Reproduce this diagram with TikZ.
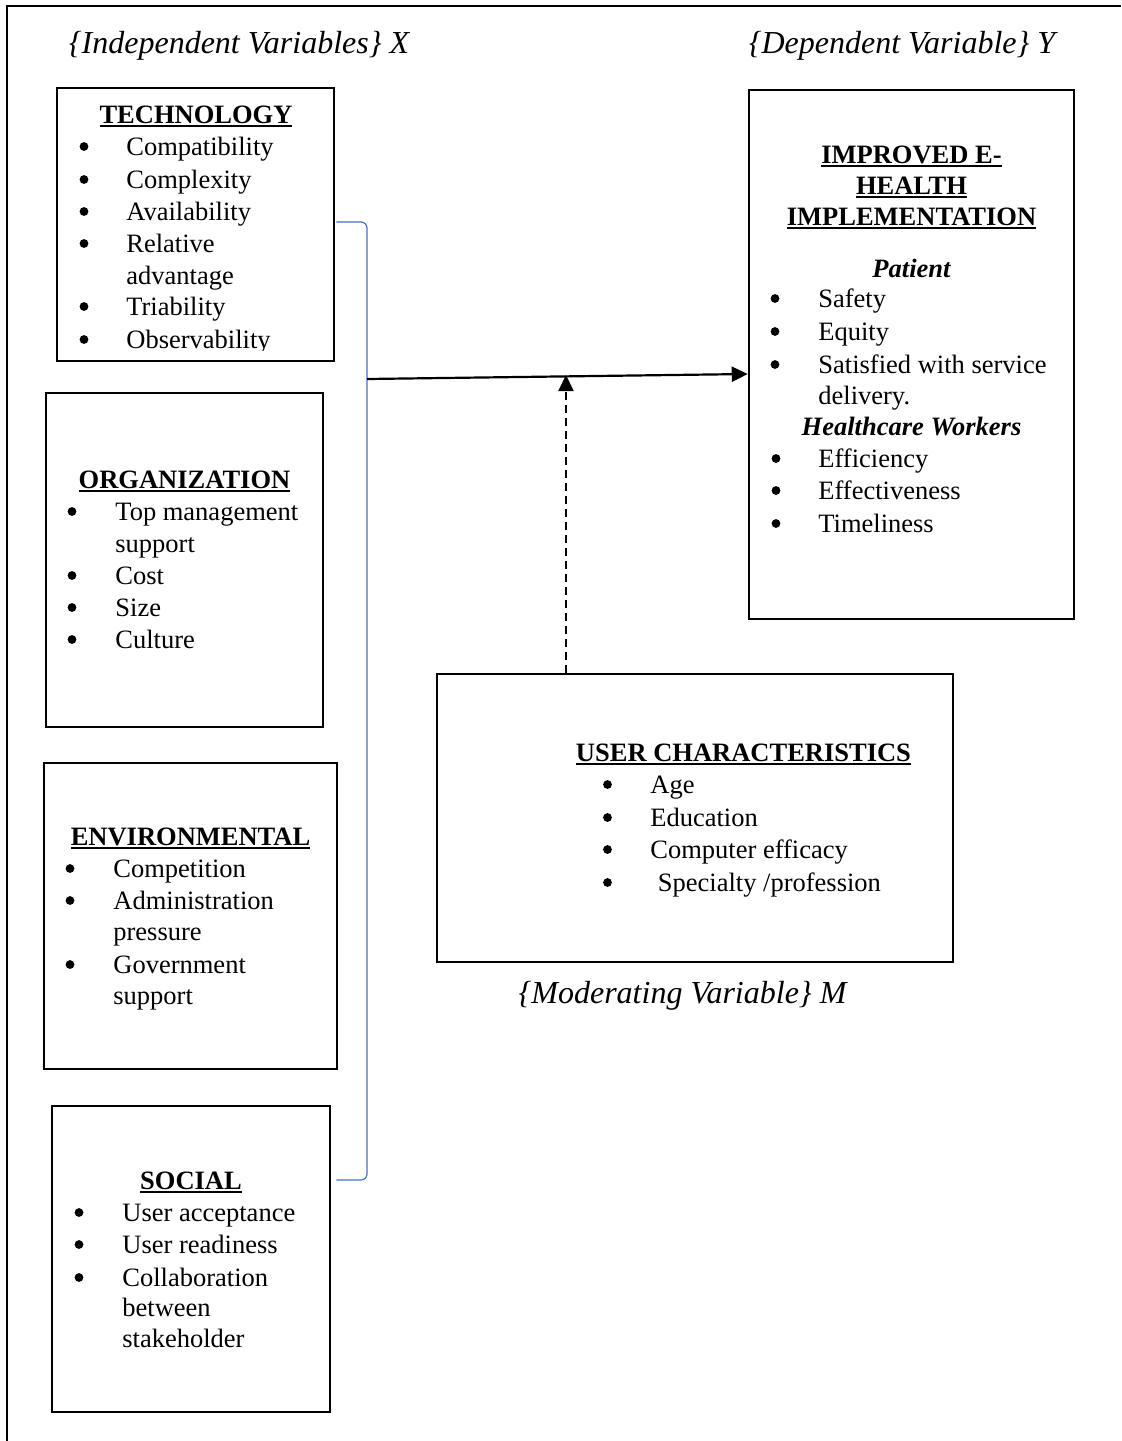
\documentclass[tikz,border=0pt]{standalone}
\usepackage{fontspec}
\setmainfont{Liberation Serif}
\usetikzlibrary{arrows.meta}
\newcommand\bodyfont{\fontsize{13.25}{16}\selectfont}
\newcommand\lblfont{\fontsize{16}{19}\selectfont\itshape}
\newcommand\myul[1]{\setbox0\hbox{#1}\rlap{\vrule width\wd0 height -0.9pt depth 1.9pt}\box0}
\newcommand\bl[5]{\node[bul] (#1b) at (#2,#4-8.5) {}; \node[itm] (#1) at (#3,#4) {#5};}
\definecolor{brk}{HTML}{4472C4}
\tikzset{
  box/.style={draw, line width=1.25pt, inner sep=0pt, rectangle},
  itm/.style={anchor=base west, inner sep=0pt, font=\bodyfont},
  bul/.style={circle, fill, inner sep=0pt, minimum size=4.4pt},
  ttl/.style={anchor=base, inner sep=0pt, font=\bodyfont\bfseries},
  sub/.style={anchor=base, inner sep=0pt, font=\bodyfont\bfseries\itshape},
  lbl/.style={anchor=base, inner sep=0pt, font=\lblfont},
  bracket/.style={draw=brk, line width=0.6pt, rounded corners=3pt},
  arr/.style={line width=1.1pt, -{Triangle[length=8pt,width=7.5pt]}},
  frame/.style={line width=1pt}
}
\begin{document}
\begin{tikzpicture}[x=0.5pt,y=-0.5pt]
\useasboundingbox (0,0) rectangle (1121,1441);
\draw[frame] (7,1441) -- (7,6) -- (1121,6);

% labels
\node[lbl] (lx) at (239,53) {\{Independent Variables\} X};
\node[lbl] (ly) at (902,53) {\{Dependent Variable\} Y};
\node[lbl] (lm) at (682.5,1003) {\{Moderating Variable\} M};

% boxes
\node[box, minimum width=138.5pt, minimum height=136.5pt] (tech) at (195.5,224.5) {};
\node[box, minimum width=138.5pt, minimum height=167pt] (org) at (184.5,560) {};
\node[box, minimum width=146.5pt, minimum height=153pt] (env) at (190.5,916) {};
\node[box, minimum width=139pt, minimum height=153pt] (soc) at (191,1259) {};
\node[box, minimum width=162.5pt, minimum height=264.5pt] (imp) at (911.5,354.5) {};
\node[box, minimum width=258pt, minimum height=144pt] (uc) at (695,818) {};

% technology
\begin{scope}
\clip (0,0) rectangle (1121,350);
\node[ttl] (techt) at (196,123) {\myul{TECHNOLOGY}};
\bl{t1}{84}{126}{155}{Compatibility}
\bl{t2}{84}{126}{188}{Complexity}
\bl{t3}{84}{126}{220}{Availability}
\bl{t4}{84}{126}{252}{Relative}
\node[itm] (t4c) at (126,284) {advantage};
\bl{t5}{84}{126}{315}{Triability}
\bl{t6}{84}{126}{348}{Observability}
\end{scope}

% organization
\node[ttl] (orgt) at (184.5,488) {\myul{ORGANIZATION}};
\bl{o1}{72}{115}{520}{Top management}
\node[itm] (o1c) at (115,552) {support};
\bl{o2}{72}{115}{584}{Cost}
\bl{o3}{72}{115}{616}{Size}
\bl{o4}{72}{115}{648}{Culture}

% environmental
\node[ttl] (envt) at (190.5,845) {\myul{ENVIRONMENTAL}};
\bl{e1}{70}{113}{877}{Competition}
\bl{e2}{70}{113}{909}{Administration}
\node[itm] (e2c) at (113,940) {pressure};
\bl{e3}{70}{113}{973}{Government}
\node[itm] (e3c) at (113,1004) {support};

% social
\node[ttl] (soct) at (191,1189) {\myul{SOCIAL}};
\bl{s1}{79}{122}{1221}{User acceptance}
\bl{s2}{79}{122}{1253}{User readiness}
\bl{s3}{79}{122}{1286}{Collaboration}
\node[itm] (s3c) at (122,1316) {between};
\node[itm] (s3d) at (122,1347) {stakeholder};

% improved e-health
\node[ttl] (impt1) at (911.5,163) {\myul{IMPROVED E-}};
\node[ttl] (impt2) at (911.5,194) {\myul{HEALTH}};
\node[ttl] (impt3) at (911.5,225) {\myul{IMPLEMENTATION}};
\node[sub] (pat) at (911.5,277) {Patient};
\bl{p1}{775}{818}{307}{Safety}
\bl{p2}{775}{818}{340}{Equity}
\bl{p3}{775}{818}{373}{Satisfied with service}
\node[itm] (p3c) at (818,404) {delivery.};
\node[sub] (hw) at (911.5,435) {Healthcare Workers};
\bl{h1}{776}{818}{467}{Efficiency}
\bl{h2}{776}{818}{499}{Effectiveness}
\bl{h3}{776}{818}{532}{Timeliness}

% user characteristics
\node[ttl] (uct) at (743.5,761) {\myul{USER CHARACTERISTICS}};
\bl{u1}{607.5}{650}{793}{Age}
\bl{u2}{607.5}{650}{826}{Education}
\bl{u3}{607.5}{650}{858}{Computer efficacy}
\bl{u4}{607.5}{657.5}{891}{Specialty /profession}

% connectors
\coordinate (bt) at (367,222);
\coordinate (bb) at (367,1180);
\coordinate (j) at (367,379);
\coordinate (hit) at (749,374);
\coordinate (m) at (566,375);
\draw[bracket] ([xshift=0.5pt]tech.east |- bt) -- (bt) -- (bb) -- ([xshift=2.5pt]soc.east |- bb);
\draw[arr] (j) -- (imp.west |- hit);
\draw[arr, dash pattern=on 4pt off 2.5pt] (uc.north -| m) -- (m);
\end{tikzpicture}
\end{document}
